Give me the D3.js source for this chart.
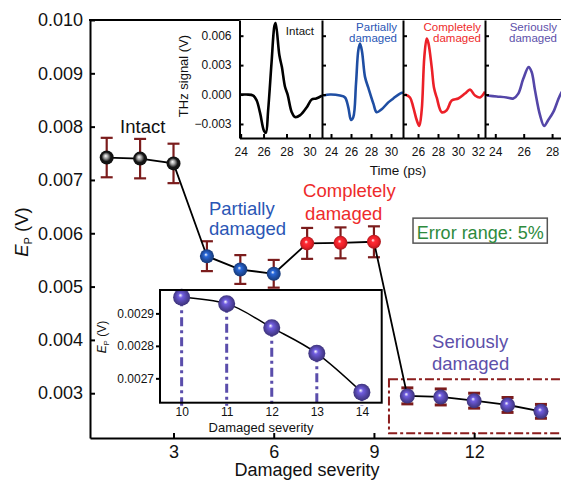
<!doctype html>
<html lang="en">
<head>
<meta charset="utf-8">
<script src="https://d3js.org/d3.v7.min.js"></script>
<title>E_P vs damaged severity</title>
<style>
  body { margin: 0; background: #fff; }
  svg { display: block; font-family: "Liberation Sans", Arial, sans-serif; }
</style>
</head>
<body>
<svg id="svg1" width="561" height="481"></svg>
<script>
// ---- main chart data: peak amplitude E_P (V) vs damaged severity
const severity = [1, 2, 3, 4, 5, 6, 7, 8, 9, 10, 11, 12, 13, 14];
const ep = [0.00742, 0.00740, 0.00731, 0.00557, 0.00532, 0.00524, 0.00581, 0.00582, 0.00584,
            0.00295, 0.00293, 0.00286, 0.00278, 0.00266];
const epErr = [0.00037, 0.00037, 0.00037, 0.00028, 0.00027, 0.00026, 0.00029, 0.00029, 0.00029,
               0.00015, 0.00015, 0.00014, 0.00014, 0.00013];
const state = ["intact", "intact", "intact", "partial", "partial", "partial",
               "complete", "complete", "complete", "serious", "serious", "serious", "serious", "serious"];
const xTicks = [3, 6, 9, 12];
const yTicks = [0.003, 0.004, 0.005, 0.006, 0.007, 0.008, 0.009, 0.010];

// ---- THz time-domain signals, time (ps) and signal (V)
const intactT = [23.9, 24.5, 25.1, 25.4, 25.7, 26.04, 26.2, 26.4, 26.7, 26.95, 27.05, 27.38, 27.6, 27.87, 28.1, 28.46, 28.75, 29.2, 29.77, 30.2, 30.6, 31.1];
const intactV = [0.0000, 0.0000, -0.0001, -0.0006, -0.0019, -0.0037, -0.0039, -0.0016, 0.0033, 0.0070, 0.0073, 0.0040, 0.0028, 0.0008, 0.0000, -0.0018, -0.0023, -0.0021, -0.0013, -0.0005, -0.0004, -0.0001];
const partialT = [23.23, 23.9, 24.9, 25.4, 25.73, 26.0, 26.23, 26.5, 26.73, 26.9, 27.1, 27.4, 27.73, 28.23, 28.57, 29.07, 29.73, 30.23, 30.9, 31.2];
const partialV = [-0.0001, 0.0000, -0.0001, -0.0003, -0.0013, -0.0026, -0.0023, 0.0011, 0.0045, 0.0052, 0.0044, 0.0018, 0.0007, -0.0009, -0.0018, -0.0015, -0.0008, -0.0004, 0.0001, 0.0002];
const completeT = [24.7, 25.2, 25.53, 25.87, 26.13, 26.37, 26.63, 26.87, 27.03, 27.37, 27.6, 27.87, 28.37, 28.87, 29.37, 30.03, 30.7, 31.2, 31.7, 32.2, 32.7];
const completeV = [0.0000, -0.0003, -0.0013, -0.0026, -0.0032, -0.0016, 0.0038, 0.0057, 0.0053, 0.0028, 0.0007, -0.0003, -0.0018, -0.0016, -0.0006, -0.0004, 0.0001, 0.0005, -0.0001, -0.0003, 0.0003];
const seriousT = [23.4, 24.1, 24.8, 25.27, 25.62, 25.97, 26.35, 26.56, 26.8, 27.15, 27.44, 27.73, 28.08, 28.55, 29.0];
const seriousV = [-0.0001, -0.0002, -0.0003, -0.0004, 0.0001, 0.0016, 0.0028, 0.0023, 0.0004, -0.0021, -0.0032, -0.0026, -0.0018, -0.0001, 0.0010];
const thzYTicks = [-0.003, 0.000, 0.003, 0.006];

// ---- zoom inset on the seriously damaged samples
const zoomSeverity = [10, 11, 12, 13, 14];
const zoomEp = [0.00295, 0.00293, 0.002856, 0.002777, 0.002657];
const zoomYTicks = [0.0027, 0.0028, 0.0029];

const colors = { intact: "#151515", partial: "#1f4ea3", complete: "#ec2028", serious: "#5446a8" };
const textColors = { intact: "#111", partial: "#2a56b5", complete: "#ee2b2b", serious: "#5d50aa" };
const errColor = "#7b1c1c";

let svg = d3.select("#svg1");
let defs = svg.append("defs");

// sphere-like gradients
Object.keys(colors).forEach(k => {
    let g = defs.append("radialGradient").attr("id", "grad-" + k)
        .attr("cx", "50%").attr("cy", "50%").attr("r", "55%")
        .attr("fx", "42%").attr("fy", "38%");
    let base = d3.color(colors[k]);
    g.append("stop").attr("offset", "0%").attr("stop-color", "#ffffff");
    g.append("stop").attr("offset", k == "intact" ? "30%" : "25%").attr("stop-color", k == "intact" ? "#9a9a9a" : base.brighter(0.8));
    g.append("stop").attr("offset", "60%").attr("stop-color", base);
    g.append("stop").attr("offset", "100%").attr("stop-color", base.darker(1.2));
});

// ================= main chart
const margin = { top: 20, right: 561, bottom: 438, left: 90 };
let x = d3.scaleLinear().domain([0.5, 14.6]).range([margin.left, margin.right]);
let y = d3.scaleLinear().domain([0.00216, 0.010]).range([margin.bottom, margin.top]);

// dash-dot box around seriously damaged
svg.append("rect")
    .attr("x", x(9.45)).attr("y", y(0.003263))
    .attr("width", x(15.5) - x(9.45)).attr("height", y(0.00225) - y(0.003263))
    .attr("fill", "none").attr("stroke", "#8b1d1d").attr("stroke-width", 2)
    .attr("stroke-dasharray", "9,3,3,3");

let pts = severity.map((s, i) => ({ s: s, v: ep[i], e: epErr[i], k: state[i] }));

// error bars
let eb = svg.append("g").attr("stroke", errColor).attr("stroke-width", 2.2);
pts.forEach(d => {
    eb.append("line").attr("x1", x(d.s)).attr("x2", x(d.s)).attr("y1", y(d.v - d.e)).attr("y2", y(d.v + d.e));
    [d.v - d.e, d.v + d.e].forEach(v => {
        eb.append("line").attr("x1", x(d.s) - 6).attr("x2", x(d.s) + 6).attr("y1", y(v)).attr("y2", y(v))
            .attr("stroke-width", d.k == "serious" ? 3 : 2.2);
    });
});

svg.append("path")
    .datum(pts)
    .attr("fill", "none").attr("stroke", "#000").attr("stroke-width", 1.8)
    .attr("d", d3.line().x(d => x(d.s)).y(d => y(d.v)));

svg.append("g").selectAll("circle")
    .data(pts)
    .join("circle")
    .attr("cx", d => x(d.s)).attr("cy", d => y(d.v))
    .attr("r", d => d.k == "serious" ? 7.5 : 7)
    .attr("fill", d => "url(#grad-" + d.k + ")");

// group labels
function label(lines, xv, yv, k, size) {
    let t = svg.append("text").attr("font-size", size).attr("fill", textColors[k]);
    lines.forEach((s, i) => {
        t.append("tspan").attr("x", x(xv[i])).attr("y", y(yv[i])).text(s);
    });
}
label(["Intact"], [1.4], [0.00788], "intact", "18.5px");
label(["Partially", "damaged"], [4.06, 4.06], [0.00634, 0.00597], "partial", "18.5px");
label(["Completely", "damaged"], [6.88, 6.94], [0.00668, 0.00625], "complete", "18.5px");
label(["Seriously", "damaged"], [10.74, 10.74], [0.00384, 0.00343], "serious", "18.5px");

// error range box
svg.append("rect")
    .attr("x", x(10.17)).attr("y", y(0.006284))
    .attr("width", x(14.19) - x(10.17)).attr("height", y(0.005815) - y(0.006284))
    .attr("fill", "#fff").attr("stroke", "#555").attr("stroke-width", 1.5);
svg.append("text")
    .attr("x", (x(10.17) + x(14.19)) / 2).attr("y", y(0.005885))
    .attr("text-anchor", "middle").attr("font-size", "18px").attr("fill", "#2e8b3d")
    .text("Error range: 5%");

// main axes
let yAxis = svg.append("g").attr("transform", `translate(${margin.left},0)`)
    .call(d3.axisLeft(y).tickValues(yTicks).tickSize(-5).tickSizeOuter(0).tickPadding(7).tickFormat(d3.format(".3f")));
let xAxis = svg.append("g").attr("transform", `translate(0,${margin.bottom})`)
    .call(d3.axisBottom(x).tickValues(xTicks).tickSize(-5).tickSizeOuter(0).tickPadding(7));
[xAxis, yAxis].forEach(a => {
    a.selectAll("path, line").attr("stroke", "#000").attr("stroke-width", 2);
    a.selectAll("text").attr("font-size", "18px").attr("fill", "#111").attr("font-family", null);
});
svg.append("line").attr("x1", margin.left - 1).attr("x2", margin.right).attr("y1", margin.top).attr("y2", margin.top)
    .attr("stroke", "#000").attr("stroke-width", 2);

svg.append("text").attr("x", 307).attr("y", 476).attr("text-anchor", "middle")
    .attr("font-size", "18px").attr("fill", "#111").text("Damaged severity");
let yl = svg.append("text").attr("transform", "translate(28,232) rotate(-90)")
    .attr("text-anchor", "middle").attr("font-size", "18.5px").attr("fill", "#111");
yl.append("tspan").attr("font-style", "italic").text("E");
yl.append("tspan").attr("font-size", "11px").attr("dy", "4").text("P");
yl.append("tspan").attr("dy", "-4").text(" (V)");

// ================= THz signal inset
const thzTop = 20, thzBottom = 138;
const panels = [
    { x0: 239.5, x1: 322, dom: [23.9, 31.1], ticks: [24, 26, 28, 30], t: intactT, v: intactV, k: "intact", name: ["Intact"] },
    { x0: 322, x1: 403, dom: [23.1, 31.2], ticks: [24, 26, 28, 30], t: partialT, v: partialV, k: "partial", name: ["Partially", "damaged"] },
    { x0: 403, x1: 485, dom: [24.5, 32.7], ticks: [26, 28, 30, 32], t: completeT, v: completeV, k: "complete", name: ["Completely", "damaged"] },
    { x0: 485, x1: 567, dom: [23.275, 29.05], ticks: [24, 26, 28], t: seriousT, v: seriousV, k: "serious", name: ["Seriously", "damaged"] }
];
let ty = d3.scaleLinear().domain([-0.00443, 0.0076]).range([thzBottom, thzTop]);

svg.append("rect").attr("x", 239.5).attr("y", thzTop).attr("width", 330).attr("height", thzBottom - thzTop).attr("fill", "#fff");

defs.append("clipPath").attr("id", "thzclip").append("rect")
    .attr("x", 239.5).attr("y", thzTop).attr("width", 330).attr("height", thzBottom - thzTop);

panels.forEach((p, pi) => {
    let tx = d3.scaleLinear().domain(p.dom).range([p.x0, p.x1]);
    let data = p.t.map((t, i) => [t, p.v[i]]);
    svg.append("path").datum(data)
        .attr("clip-path", "url(#thzclip)")
        .attr("fill", "none").attr("stroke", p.k == "intact" ? "#000" : colors[p.k])
        .attr("stroke-width", 2.6).attr("stroke-linejoin", "round")
        .attr("d", d3.line().x(d => tx(d[0])).y(d => ty(d[1])).curve(d3.curveCatmullRom.alpha(0.5)));

    let ax = svg.append("g").attr("transform", `translate(0,${thzBottom})`)
        .call(d3.axisBottom(tx).tickValues(p.ticks).tickSize(-4).tickSizeOuter(0).tickPadding(9).tickFormat(d3.format("d")));
    let ay = svg.append("g").attr("transform", `translate(${p.x0},0)`)
        .call(d3.axisLeft(ty).tickValues(thzYTicks).tickSize(-4).tickSizeOuter(0).tickPadding(8)
            .tickFormat(pi == 0 ? d3.format(".3f") : ""));
    [ax, ay].forEach(a => {
        a.selectAll("path, line").attr("stroke", "#000").attr("stroke-width", 2);
        a.selectAll("text").attr("font-size", "12px").attr("fill", "#111").attr("font-family", null);
    });

    let t = svg.append("text").attr("font-size", "11.5px").attr("text-anchor", "end")
        .attr("fill", p.k == "intact" ? "#111" : textColors[p.k]);
    let right = [314, 397, 481, 557][pi];
    p.name.forEach((s, i) => {
        t.append("tspan").attr("x", right).attr("y", p.name.length == 1 ? 35 : 30.5 + i * 11.2).text(s);
    });
});
svg.append("text").attr("transform", "translate(188,76) rotate(-90)").attr("text-anchor", "middle")
    .attr("font-size", "13px").attr("fill", "#111").text("THz signal (V)");
svg.append("text").attr("x", 398).attr("y", 175).attr("text-anchor", "middle")
    .attr("font-size", "13.5px").attr("fill", "#111").text("Time (ps)");

// ================= zoom inset (seriously damaged)
const zx0 = 160, zx1 = 381.7, zy0 = 290, zy1 = 402.7;
let zx = d3.scaleLinear().domain([9.52, 14.44]).range([zx0, zx1]);
let zy = d3.scaleLinear().domain([0.002625, 0.002972]).range([zy1, zy0]);
let zpts = zoomSeverity.map((s, i) => ({ s: s, v: zoomEp[i] }));

svg.append("rect").attr("x", zx0).attr("y", zy0).attr("width", zx1 - zx0).attr("height", zy1 - zy0)
    .attr("fill", "#fff");

svg.append("g").selectAll("line")
    .data(zpts)
    .join("line")
    .attr("x1", d => zx(d.s)).attr("x2", d => zx(d.s))
    .attr("y1", d => zy(d.v)).attr("y2", zy1 + 3)
    .attr("stroke", "#5a4dab").attr("stroke-width", 3)
    .attr("stroke-dasharray", "9,4,3,4");

svg.append("path").datum(zpts)
    .attr("fill", "none").attr("stroke", "#000").attr("stroke-width", 1.5)
    .attr("d", d3.line().x(d => zx(d.s)).y(d => zy(d.v)).curve(d3.curveMonotoneX));

svg.append("g").selectAll("circle")
    .data(zpts)
    .join("circle")
    .attr("cx", d => zx(d.s)).attr("cy", d => zy(d.v)).attr("r", 8.5)
    .attr("fill", "url(#grad-serious)");

svg.append("rect").attr("x", zx0).attr("y", zy0).attr("width", zx1 - zx0).attr("height", zy1 - zy0)
    .attr("fill", "none").attr("stroke", "#000").attr("stroke-width", 2);

let zax = svg.append("g").attr("transform", `translate(0,${zy1})`)
    .call(d3.axisBottom(zx).tickValues(zoomSeverity).tickSize(0).tickPadding(5).tickFormat(d3.format("d")));
let zay = svg.append("g").attr("transform", `translate(${zx0},0)`)
    .call(d3.axisLeft(zy).tickValues(zoomYTicks).tickSize(4).tickSizeOuter(0).tickPadding(2).tickFormat(d3.format(".4f")));
[zax, zay].forEach(a => {
    a.select(".domain").remove();
    a.selectAll("line").attr("stroke", "#000").attr("stroke-width", 2);
    a.selectAll("text").attr("font-size", "12px").attr("fill", "#111").attr("font-family", null);
});
svg.append("text").attr("x", 261).attr("y", 432).attr("text-anchor", "middle")
    .attr("font-size", "13px").attr("fill", "#111").text("Damaged severity");
let zyl = svg.append("text").attr("transform", "translate(106,337) rotate(-90)")
    .attr("text-anchor", "middle").attr("font-size", "12px").attr("fill", "#111");
zyl.append("tspan").attr("font-style", "italic").text("E");
zyl.append("tspan").attr("font-size", "7.5px").attr("dy", "3").text("P");
zyl.append("tspan").attr("dy", "-3").text(" (V)");
</script>
</body>
</html>
